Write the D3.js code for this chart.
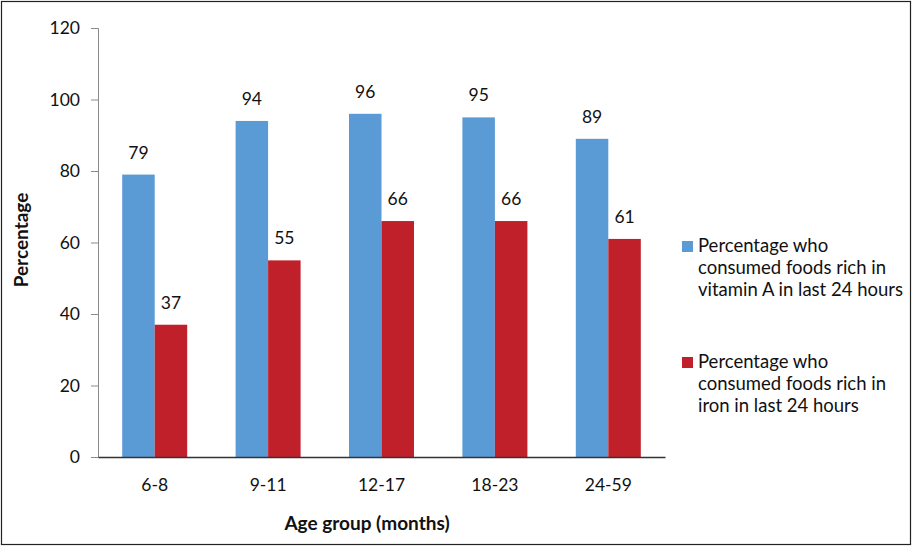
<!DOCTYPE html>
<html>
<head>
<meta charset="utf-8">
<script src="https://cdn.jsdelivr.net/npm/d3@7"></script>
<style>
  html, body { margin: 0; padding: 0; background: #fff; }
  svg { display: block; font-family: Lato, "Open Sans", sans-serif; }
</style>
</head>
<body>
<svg id="chart" width="912" height="547"></svg>
<script>
// Age groups and percentages of children consuming vitamin A / iron rich foods
const categories = ["6-8", "9-11", "12-17", "18-23", "24-59"];
const vitaminA = [79, 94, 96, 95, 89];
const iron = [37, 55, 66, 66, 61];
const yTicks = [0, 20, 40, 60, 80, 100, 120];
const seriesNames = [
  ["Percentage who", "consumed foods rich in", "vitamin A in last 24 hours"],
  ["Percentage who", "consumed foods rich in", "iron in last 24 hours"]
];
const colors = ["#5b9bd5", "#c0202a"];

const svg = d3.select("#chart");

// outer frame
svg.append("rect")
  .attr("x", 1.5).attr("y", 1.5)
  .attr("width", 909).attr("height", 543)
  .attr("fill", "none").attr("stroke", "#222").attr("stroke-width", 1.2);

const plotLeft = 98, plotRight = 665, plotTop = 28, plotBottom = 457;
const groupWidth = 65;

const x = d3.scaleBand().domain(categories).range([plotLeft, plotRight]).padding(0);
const x1 = d3.scaleBand().domain([0, 1]).range([0, groupWidth]);
const y = d3.scaleLinear().domain([0, 120]).range([plotBottom, plotTop]);

// y axis
const yAxis = svg.append("g")
  .attr("transform", `translate(${plotLeft},0)`)
  .call(d3.axisLeft(y).tickValues(yTicks).tickSize(7).tickPadding(11));
yAxis.select(".domain").attr("stroke", "#8a8a8a");
yAxis.selectAll(".tick line").attr("stroke", "#8a8a8a");
yAxis.selectAll(".tick text")
  .attr("fill", "#111").style("font-size", "17.5px").style("font-family", "Lato, sans-serif");

// bars with value labels
const series = [vitaminA, iron];
series.forEach((vals, si) => {
  const barX = (c) => x(c) + (x.bandwidth() - groupWidth) / 2 + x1(si);
  svg.append("g").selectAll("rect")
    .data(categories)
    .join("rect")
    .attr("x", barX)
    .attr("y", (c, i) => y(vals[i]))
    .attr("width", x1.bandwidth())
    .attr("height", (c, i) => plotBottom - y(vals[i]))
    .attr("fill", colors[si]);

  svg.append("g").selectAll("text")
    .data(categories)
    .join("text")
    .attr("x", (c) => barX(c) + x1.bandwidth() / 2)
    .attr("y", (c, i) => y(vals[i]) - 16)
    .attr("text-anchor", "middle")
    .attr("fill", "#111")
    .style("font-size", "17.5px")
    .text((c, i) => vals[i]);
});

// x axis
const xAxis = svg.append("g")
  .attr("transform", `translate(0,${plotBottom})`)
  .call(d3.axisBottom(x).tickSize(0).tickPadding(22));
xAxis.select(".domain").attr("stroke", "#333").attr("stroke-width", 1.3);
xAxis.selectAll(".tick text")
  .attr("fill", "#111").style("font-size", "17.5px").style("font-family", "Lato, sans-serif");

// axis titles
svg.append("text")
  .attr("x", 367).attr("y", 530)
  .attr("text-anchor", "middle")
  .style("font-size", "19px").style("font-weight", "bold")
  .attr("fill", "#111")
  .text("Age group (months)");

svg.append("text")
  .attr("transform", "translate(28,240) rotate(-90)")
  .attr("text-anchor", "middle")
  .style("font-size", "19px").style("font-weight", "bold")
  .attr("fill", "#111")
  .text("Percentage");

// legend
const legendTop = [241, 357];
seriesNames.forEach((lines, si) => {
  const g = svg.append("g");
  g.append("rect")
    .attr("x", 682).attr("y", legendTop[si])
    .attr("width", 11).attr("height", 11)
    .attr("fill", colors[si]);
  g.append("text")
    .attr("x", 698).attr("y", legendTop[si] + 11)
    .attr("fill", "#111")
    .style("font-size", "18.5px")
    .selectAll("tspan")
    .data(lines)
    .join("tspan")
    .attr("x", 698)
    .attr("dy", (d, i) => i === 0 ? 0 : 22)
    .text(d => d);
});
</script>
</body>
</html>
